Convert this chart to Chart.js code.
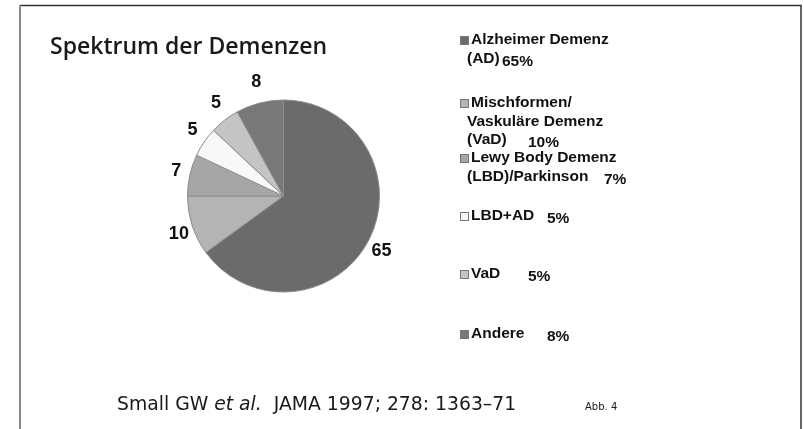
<!DOCTYPE html>
<html>
<head>
<meta charset="utf-8">
<script src="https://cdn.jsdelivr.net/npm/chart.js@4"></script>
<style>
  html, body { margin: 0; padding: 0; background: #fff; }
  #wrap { position: relative; width: 804px; height: 429px; }
</style>
</head>
<body>
<div id="wrap"><canvas id="chart" width="804" height="429"></canvas></div>
<script>
// chart data
var categories = ["Alzheimer Demenz (AD)", "Mischformen/Vaskuläre Demenz (VaD)", "Lewy Body Demenz (LBD)/Parkinson", "LBD+AD", "VaD", "Andere"];
var values = [65, 10, 7, 5, 5, 8];
var sliceColors = ["#6b6b6b", "#b4b4b4", "#a6a6a6", "#f8f8f8", "#c4c4c4", "#787878"];
// legend text, one entry per category (lines), percent goes on the last line
var legendLines = [
    ["Alzheimer Demenz", "(AD)"],
    ["Mischformen/", "Vaskuläre Demenz", "(VaD)"],
    ["Lewy Body Demenz", "(LBD)/Parkinson"],
    ["LBD+AD"],
    ["VaD"],
    ["Andere"]
];
var legendY = [40, 103, 158, 216, 274, 334];
var pctX = [502, 528, 604, 547, 528, 547];
var title = "Spektrum der Demenzen";
var source = "Abb. 4";

var frame = {
    id: 'frame',
    beforeDraw: function (chart) {
        var ctx = chart.ctx;
        ctx.save();
        ctx.fillStyle = "#fff";
        ctx.fillRect(0, 0, 804, 429);
        ctx.strokeStyle = "#333";
        ctx.lineWidth = 1.5;
        ctx.beginPath();
        ctx.moveTo(20, 5.5); ctx.lineTo(801, 5.5); ctx.lineTo(801, 429);
        ctx.stroke();
        ctx.strokeStyle = "#8a8a8a";
        ctx.lineWidth = 2;
        ctx.beginPath();
        ctx.moveTo(20, 5); ctx.lineTo(20, 429);
        ctx.stroke();
        ctx.restore();
    },
    afterDraw: function (chart) {
        var ctx = chart.ctx;
        ctx.save();
        // title
        ctx.fillStyle = "#1a1a1a";
        ctx.textBaseline = "alphabetic";
        ctx.font = "600 23px 'Open Sans'";
        ctx.fillText(title, 50, 54);

        // slice labels outside the pie
        var meta = chart.getDatasetMeta(0);
        ctx.font = "bold 18px 'Liberation Sans'";
        ctx.textAlign = "center";
        ctx.textBaseline = "middle";
        ctx.fillStyle = "#111";
        meta.data.forEach(function (arc, i) {
            var mid = (arc.startAngle + arc.endAngle) / 2;
            var rx = arc.outerRadius + 14;
            var ry = arc.outerRadius + 23;
            ctx.fillText(String(values[i]), arc.x + rx * Math.cos(mid), arc.y + ry * Math.sin(mid) + 1);
        });

        // legend
        ctx.textAlign = "left";
        ctx.textBaseline = "middle";
        ctx.font = "bold 15.5px 'Liberation Sans'";
        for (var i = 0; i < legendLines.length; i++) {
            var y0 = legendY[i];
            ctx.fillStyle = sliceColors[i];
            ctx.fillRect(460.5, y0 - 3.5, 8, 8);
            ctx.strokeStyle = "#777";
            ctx.lineWidth = 1;
            ctx.strokeRect(460.5, y0 - 3.5, 8, 8);
            ctx.fillStyle = "#111";
            var lines = legendLines[i];
            for (var k = 0; k < lines.length; k++) {
                var y = y0 + k * 18.5;
                ctx.fillText(lines[k], k == 0 ? 471 : 467, y);
                if (k == lines.length - 1) {
                    ctx.fillText(values[i] + "%", pctX[i], y + 3);
                }
            }
        }

        // citation
        ctx.fillStyle = "#1a1a1a";
        ctx.textBaseline = "alphabetic";
        var x = 117;
        var parts = [["Small GW ", "normal"], ["et al.", "italic"], ["  JAMA 1997; 278: 1363\u201371", "normal"]];
        parts.forEach(function (p) {
            ctx.font = (p[1] == "italic" ? "italic " : "") + "18.8px 'DejaVu Sans'";
            ctx.fillText(p[0], x, 410);
            x += ctx.measureText(p[0]).width;
        });
        ctx.font = "10px 'DejaVu Sans'";
        ctx.fillText(source, 585, 410);
        ctx.restore();
    }
};

new Chart(document.getElementById("chart"), {
    type: "pie",
    data: {
        labels: categories,
        datasets: [{
            data: values,
            backgroundColor: sliceColors,
            borderColor: "#8c8c8c",
            borderWidth: 1
        }]
    },
    options: {
        responsive: false,
        animation: false,
        radius: 96,
        layout: {
            padding: { left: 187, right: 424, top: 100, bottom: 137 }
        },
        plugins: {
            legend: { display: false },
            tooltip: { enabled: false }
        }
    },
    plugins: [frame]
});
</script>
</body>
</html>
